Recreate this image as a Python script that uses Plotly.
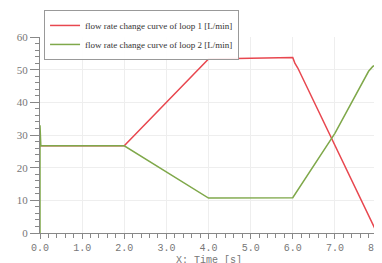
import plotly.graph_objects as go

# loop 1 (red)
x1 = [0.0, 0.02, 2.0, 4.0, 5.0, 6.0, 6.05, 6.12, 8.0]
y1 = [26.7, 26.7, 26.7, 53.3, 53.5, 53.7, 52.0, 50.5, 0.0]
# loop 2 (green)
x2 = [0.0, 0.0, 0.02, 2.0, 4.0, 5.0, 6.0, 7.0, 7.8, 7.9, 8.0]
y2 = [0.0, 33.0, 26.7, 26.7, 10.7, 10.7, 10.8, 30.5, 49.5, 51.0, 51.6]

name1 = "flow rate change curve of loop 1 [L/min]"
name2 = "flow rate change curve of loop 2 [L/min]"
xticks = [0, 1, 2, 3, 4, 5, 6, 7, 8]
xticklabels = ["0.0", "1.0", "2.0", "3.0", "4.0", "5.0", "6.0", "7.0", "8.0"]
yticks = [0, 10, 20, 30, 40, 50, 60]

fig = go.Figure()
fig.add_trace(go.Scatter(x=x1, y=y1, mode="lines", name=name1,
                         line=dict(color="#e8474f", width=1.5)))
fig.add_trace(go.Scatter(x=x2, y=y2, mode="lines", name=name2,
                         line=dict(color="#7fa84a", width=1.5)))

fig.update_layout(
    width=374, height=255,
    margin=dict(l=32, r=5, t=29, b=30, autoexpand=False),
    paper_bgcolor="white", plot_bgcolor="white",
    showlegend=True,
    legend=dict(x=0.012, y=1.138, xanchor="left", yanchor="top",
                xref="paper", yref="paper",
                bgcolor="rgba(255,255,255,0.9)", bordercolor="#999999", borderwidth=1,
                font=dict(family="Liberation Serif", size=9, color="#333333"),
                tracegroupgap=0, itemwidth=30),
    xaxis=dict(range=[0, 8], tickvals=xticks, ticktext=xticklabels,
               automargin=False, ticklabeloverflow="allow",
               showgrid=True, gridcolor="#eeeeee", gridwidth=1,
               showline=True, linecolor="#888888", mirror=False,
               ticks="outside", ticklen=5, tickcolor="#888888",
               minor=dict(dtick=0.2, ticks="outside", ticklen=4, tickcolor="#888888"),
               zeroline=False,
               tickfont=dict(family="Liberation Mono", size=10, color="#777777")),
    yaxis=dict(range=[0, 60], tickvals=yticks,
               automargin=False,
               showgrid=True, gridcolor="#eeeeee", gridwidth=1,
               showline=True, linecolor="#888888",
               ticks="outside", ticklen=9, tickcolor="#888888",
               minor=dict(dtick=2, ticks="outside", ticklen=4, tickcolor="#888888"),
               zeroline=False,
               tickfont=dict(family="Liberation Serif", size=11, color="#777777")),
    annotations=[dict(text="X: Time [s]", x=0.5, y=-0.14, xref="paper", yref="paper",
                      xanchor="center", yanchor="middle", showarrow=False,
                      font=dict(family="Liberation Mono", size=10, color="#777777"))],
)
fig.write_html("out.html")
